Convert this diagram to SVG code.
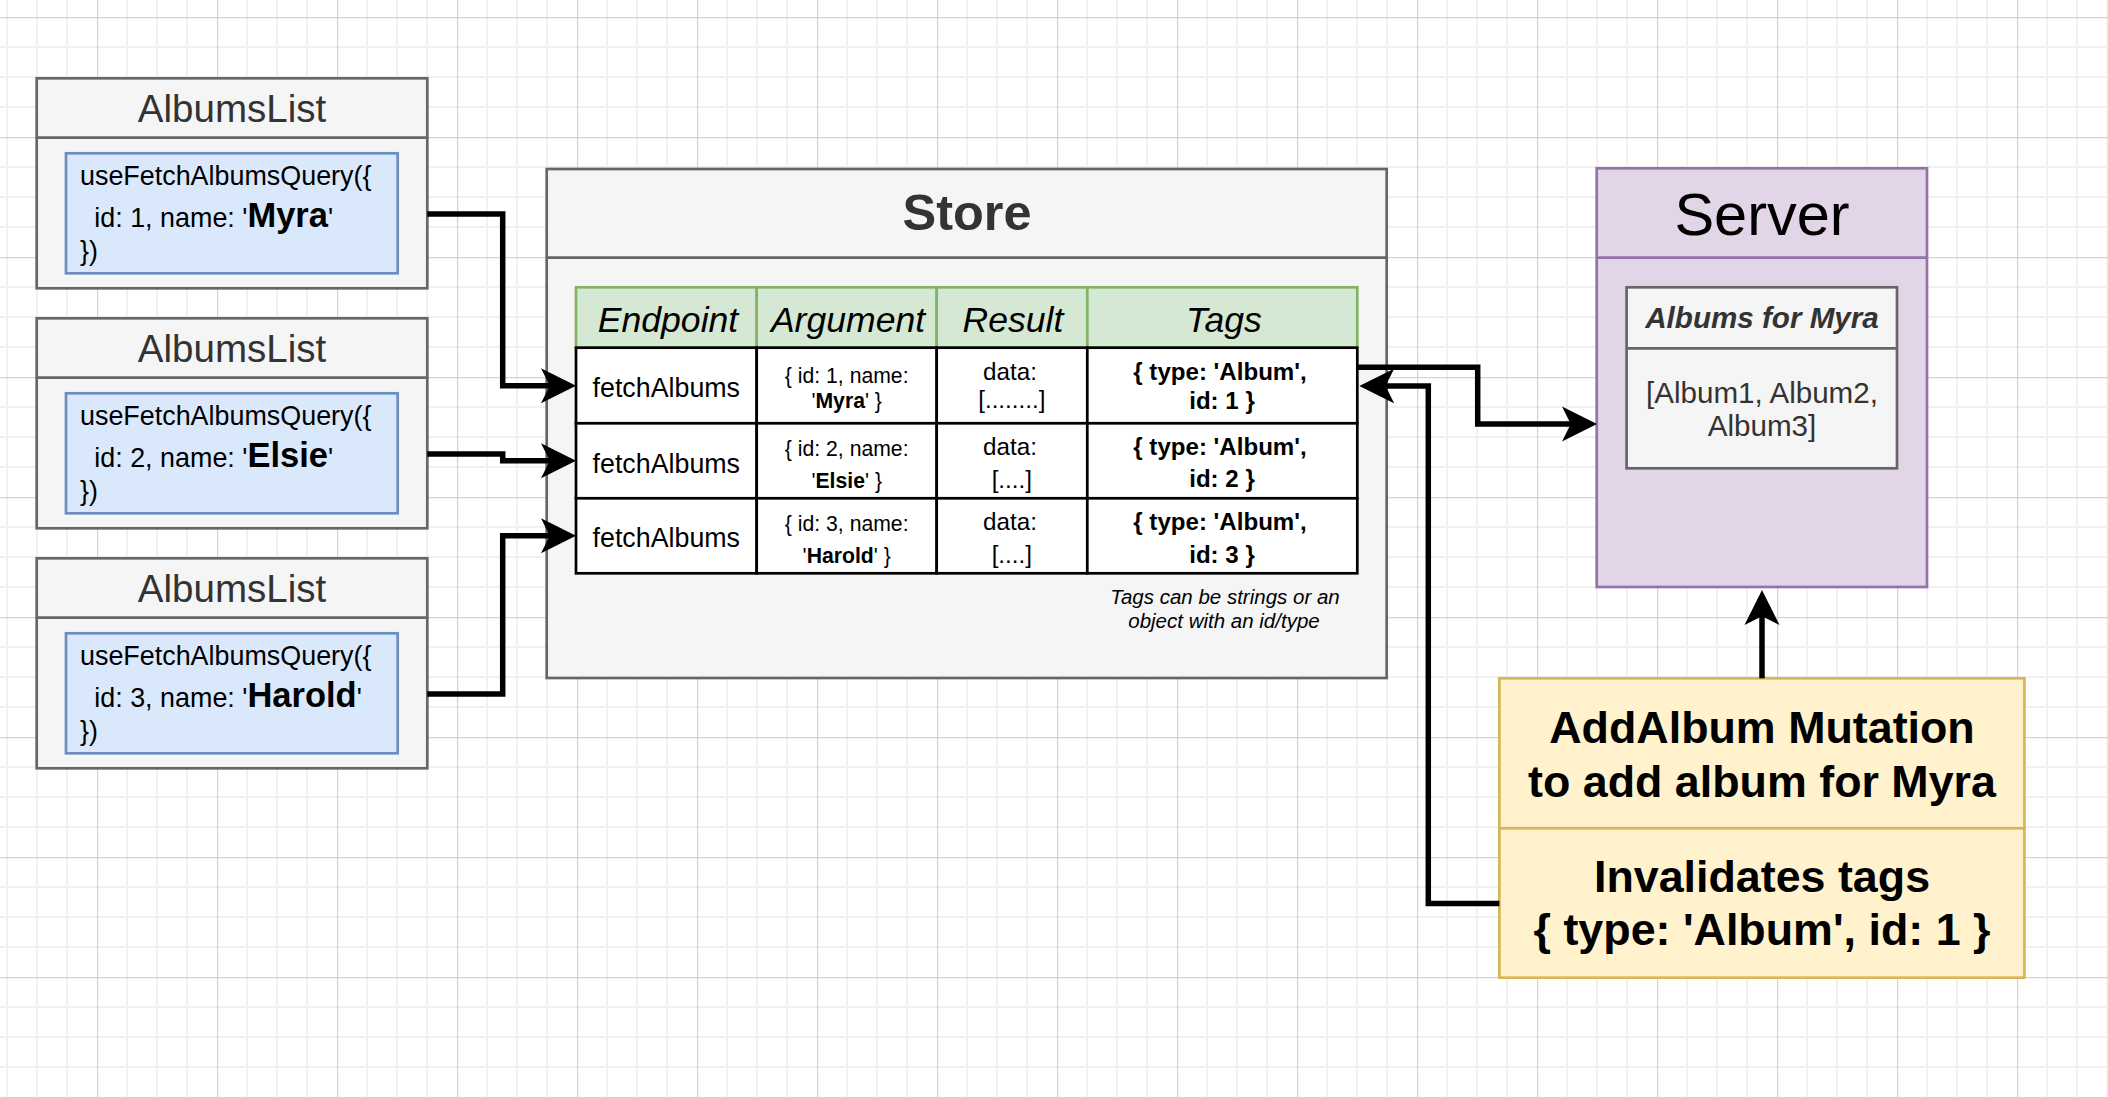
<svg xmlns="http://www.w3.org/2000/svg" width="2108" height="1098" viewBox="0 0 2108 1098">
  <style>
    text { font-family: "Liberation Sans", Arial, Helvetica, sans-serif; }
    .mid { text-anchor: middle; }
    .gray-box { fill: #f5f5f5; stroke: #666666; stroke-width: 2.7; }
    .blue-box { fill: #dae8fc; stroke: #6c8ebf; stroke-width: 2.7; }
    .green-cell { fill: #d5e8d4; stroke: #82b366; stroke-width: 2.7; }
    .white-cell { fill: #ffffff; stroke: #000000; stroke-width: 2.7; }
    .purple-box { fill: #e1d5e7; stroke: #9673a6; stroke-width: 2.7; }
    .yellow-box { fill: #fff2cc; stroke: #d6b656; stroke-width: 2.7; }
    .list-title { font-size: 38.5px; fill: #333333; }
    .code { font-size: 26.9px; fill: #000000; }
    .code-name { font-size: 34.5px; font-weight: bold; }
    .col-head { font-size: 35.6px; font-style: italic; fill: #000000; }
    .endpoint { font-size: 26.8px; fill: #000000; }
    .arg { font-size: 21.2px; fill: #000000; }
    .result { font-size: 24.2px; fill: #000000; }
    .tag { font-size: 24.1px; font-weight: bold; fill: #000000; }
    .note { font-size: 20.5px; font-style: italic; fill: #000000; }
    .big-bold { font-size: 44.8px; font-weight: bold; fill: #000000; }
    .conn { fill: none; stroke: #000000; stroke-width: 5.5; stroke-linejoin: miter; marker-end: url(#arrow); }
  </style>
  <defs>
    <pattern id="grid" patternUnits="userSpaceOnUse" x="97" y="17" width="120" height="120">
      <rect x="29" y="0" width="2" height="120" fill="#f1f1f1"/>
      <rect x="59" y="0" width="2" height="120" fill="#f1f1f1"/>
      <rect x="89" y="0" width="2" height="120" fill="#f1f1f1"/>
      <rect x="0" y="29" width="120" height="2" fill="#f1f1f1"/>
      <rect x="0" y="59" width="120" height="2" fill="#f1f1f1"/>
      <rect x="0" y="89" width="120" height="2" fill="#f1f1f1"/>
      <rect x="0" y="0" width="1.2" height="120" fill="#d2d2d2"/>
      <rect x="0" y="0" width="120" height="1.2" fill="#d2d2d2"/>
    </pattern>
    <marker id="arrow" markerUnits="userSpaceOnUse" viewBox="0 0 36 36" markerWidth="36" markerHeight="36" refX="25" refY="18" orient="auto">
      <path d="M35,18 L0,0.5 L8.75,18 L0,35.5 Z" fill="#000000"/>
    </marker>
  </defs>

  <!-- page background with drawing grid -->
  <rect x="0" y="0" width="2108" height="1098" fill="#ffffff"/>
  <rect x="0" y="0" width="2108" height="1098" fill="url(#grid)"/>

  <!-- component using the query hook, user 1 -->
  <g id="albums-list-1">
    <rect class="gray-box" x="36.7" y="78.3" width="390.6" height="210"/>
    <line x1="36.7" y1="137.7" x2="427.3" y2="137.7" stroke="#666666" stroke-width="2.7"/>
    <text class="list-title mid" x="232" y="121.7">AlbumsList</text>
    <rect class="blue-box" x="66" y="153.3" width="331.7" height="120"/>
    <text class="code" x="80" y="185">useFetchAlbumsQuery({</text>
    <text class="code" x="94.3" y="226.7">id: 1, name: '<tspan class="code-name">Myra</tspan>'</text>
    <text class="code" x="80" y="260">})</text>
  </g>

  <!-- component using the query hook, user 2 -->
  <g id="albums-list-2">
    <rect class="gray-box" x="36.7" y="318.3" width="390.6" height="210"/>
    <line x1="36.7" y1="377.7" x2="427.3" y2="377.7" stroke="#666666" stroke-width="2.7"/>
    <text class="list-title mid" x="232" y="361.7">AlbumsList</text>
    <rect class="blue-box" x="66" y="393.3" width="331.7" height="120"/>
    <text class="code" x="80" y="425">useFetchAlbumsQuery({</text>
    <text class="code" x="94.3" y="466.7">id: 2, name: '<tspan class="code-name">Elsie</tspan>'</text>
    <text class="code" x="80" y="500">})</text>
  </g>

  <!-- component using the query hook, user 3 -->
  <g id="albums-list-3">
    <rect class="gray-box" x="36.7" y="558.3" width="390.6" height="210"/>
    <line x1="36.7" y1="617.7" x2="427.3" y2="617.7" stroke="#666666" stroke-width="2.7"/>
    <text class="list-title mid" x="232" y="601.7">AlbumsList</text>
    <rect class="blue-box" x="66" y="633.3" width="331.7" height="120"/>
    <text class="code" x="80" y="665">useFetchAlbumsQuery({</text>
    <text class="code" x="94.3" y="706.7">id: 3, name: '<tspan class="code-name">Harold</tspan>'</text>
    <text class="code" x="80" y="740">})</text>
  </g>

  <!-- store container with the cache table -->
  <g id="store">
    <rect class="gray-box" x="546.7" y="169" width="840" height="509"/>
    <line x1="546.7" y1="257.7" x2="1386.7" y2="257.7" stroke="#666666" stroke-width="2.7"/>
    <text class="mid" x="967" y="230" font-size="50.5" font-weight="bold" fill="#333333">Store</text>

    <!-- table header -->
    <rect class="green-cell" x="576" y="287.3" width="180.7" height="60.4"/>
    <rect class="green-cell" x="756.7" y="287.3" width="180" height="60.4"/>
    <rect class="green-cell" x="936.7" y="287.3" width="150.6" height="60.4"/>
    <rect class="green-cell" x="1087.3" y="287.3" width="270" height="60.4"/>
    <text class="col-head mid" x="668" y="331.7">Endpoint</text>
    <text class="col-head mid" x="848" y="331.7">Argument</text>
    <text class="col-head mid" x="1013" y="331.7">Result</text>
    <text class="col-head mid" x="1224" y="331.7">Tags</text>

    <!-- row 1 -->
    <rect class="white-cell" x="576" y="347.7" width="180.7" height="75.6"/>
    <rect class="white-cell" x="756.7" y="347.7" width="180" height="75.6"/>
    <rect class="white-cell" x="936.7" y="347.7" width="150.6" height="75.6"/>
    <rect class="white-cell" x="1087.3" y="347.7" width="270" height="75.6"/>
    <!-- row 2 -->
    <rect class="white-cell" x="576" y="423.3" width="180.7" height="75"/>
    <rect class="white-cell" x="756.7" y="423.3" width="180" height="75"/>
    <rect class="white-cell" x="936.7" y="423.3" width="150.6" height="75"/>
    <rect class="white-cell" x="1087.3" y="423.3" width="270" height="75"/>
    <!-- row 3 -->
    <rect class="white-cell" x="576" y="498.3" width="180.7" height="75"/>
    <rect class="white-cell" x="756.7" y="498.3" width="180" height="75"/>
    <rect class="white-cell" x="936.7" y="498.3" width="150.6" height="75"/>
    <rect class="white-cell" x="1087.3" y="498.3" width="270" height="75"/>

    <text class="endpoint mid" x="666.3" y="397.3">fetchAlbums</text>
    <text class="endpoint mid" x="666.3" y="472.5">fetchAlbums</text>
    <text class="endpoint mid" x="666.3" y="547.3">fetchAlbums</text>

    <text class="arg mid" x="846.7" y="382.7">{ id: 1, name:</text>
    <text class="arg mid" x="846.7" y="407.7">'<tspan font-weight="bold">Myra</tspan>' }</text>
    <text class="arg mid" x="846.7" y="456">{ id: 2, name:</text>
    <text class="arg mid" x="846.7" y="488.3">'<tspan font-weight="bold">Elsie</tspan>' }</text>
    <text class="arg mid" x="846.7" y="530.7">{ id: 3, name:</text>
    <text class="arg mid" x="846.7" y="563.3">'<tspan font-weight="bold">Harold</tspan>' }</text>

    <text class="result mid" x="1010" y="380">data:</text>
    <text class="result mid" x="1011.8" y="408">[........]</text>
    <text class="result mid" x="1010" y="455">data:</text>
    <text class="result mid" x="1011.8" y="487.5">[....]</text>
    <text class="result mid" x="1010" y="530">data:</text>
    <text class="result mid" x="1011.8" y="562.5">[....]</text>

    <text class="tag mid" x="1220" y="380">{ type: 'Album',</text>
    <text class="tag mid" x="1222" y="409.3">id: 1 }</text>
    <text class="tag mid" x="1220" y="455">{ type: 'Album',</text>
    <text class="tag mid" x="1222" y="487.3">id: 2 }</text>
    <text class="tag mid" x="1220" y="530">{ type: 'Album',</text>
    <text class="tag mid" x="1222" y="562.7">id: 3 }</text>

    <text class="note mid" x="1225" y="604">Tags can be strings or an</text>
    <text class="note mid" x="1224" y="628.3">object with an id/type</text>
  </g>

  <!-- server container -->
  <g id="server">
    <rect class="purple-box" x="1596.7" y="168.3" width="330.3" height="418.7"/>
    <line x1="1596.7" y1="257.7" x2="1927" y2="257.7" stroke="#9673a6" stroke-width="2.7"/>
    <text class="mid" x="1762" y="235" font-size="59.5" fill="#000000">Server</text>
  </g>

  <!-- albums stored on the server for one user -->
  <g id="albums-for-myra">
    <rect class="gray-box" x="1626.6" y="287.3" width="270.4" height="181"/>
    <line x1="1626.6" y1="348.3" x2="1897" y2="348.3" stroke="#666666" stroke-width="2.7"/>
    <text class="mid" x="1762" y="328.3" font-size="29.6" font-weight="bold" font-style="italic" fill="#333333">Albums for Myra</text>
    <text class="mid" x="1762" y="403.3" font-size="29.6" fill="#333333">[Album1, Album2,</text>
    <text class="mid" x="1762" y="436" font-size="29.6" fill="#333333">Album3]</text>
  </g>

  <!-- mutation that invalidates a tag -->
  <g id="add-album-mutation">
    <rect class="yellow-box" x="1499.4" y="678.3" width="525" height="150"/>
    <rect class="yellow-box" x="1499.4" y="828.3" width="525" height="149.4"/>
    <text class="big-bold mid" x="1762" y="742.7">AddAlbum Mutation</text>
    <text class="big-bold mid" x="1762" y="796.7">to add album for Myra</text>
    <text class="big-bold mid" x="1762" y="892.3">Invalidates tags</text>
    <text class="big-bold mid" x="1762" y="945">{ type: 'Album', id: 1 }</text>
  </g>

  <!-- connectors -->
  <g id="connectors">
    <path class="conn" d="M427.3,214 H502.7 V385.8 H566"/>
    <path class="conn" d="M427.3,454 H502.7 V460.8 H566"/>
    <path class="conn" d="M427.3,694 H502.7 V535.8 H566"/>
    <path class="conn" d="M1357.3,367.3 H1477.7 V424 H1587"/>
    <path class="conn" d="M1499.4,903.5 H1428.3 V386 H1369.3"/>
    <path class="conn" d="M1762,678.3 V600"/>
  </g>
</svg>
